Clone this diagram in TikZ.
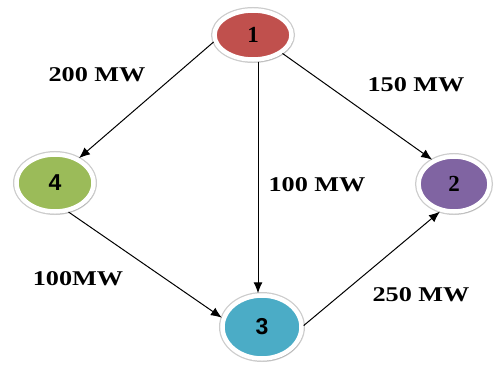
\documentclass[tikz,border=0pt]{standalone}
\usepackage{fontspec}
\setmainfont{Liberation Serif}
\newfontfamily\numsans{Liberation Sans}
\usetikzlibrary{shapes.geometric,arrows.meta,shadows}
\definecolor{cred}{HTML}{C0504D}
\definecolor{cgreen}{HTML}{9BBB59}
\definecolor{cpurple}{HTML}{8064A2}
\definecolor{cteal}{HTML}{4BACC6}
\tikzset{
  bus/.style={ellipse, inner sep=0pt, draw=white, line width=4.5pt,
    preaction={draw=black!20, line width=7pt},
    drop shadow={shadow xshift=1.5pt, shadow yshift=-2.5pt, fill=black!45, opacity=0.45},
    font=\fontsize{23}{23}\selectfont\bfseries},
  flow/.style={draw=black, line width=1pt, -{Latex[length=11pt,width=9pt]}},
  mw/.style={font=\fontsize{21}{21}\selectfont\bfseries, xscale=1.25, inner sep=0pt}
}
\begin{document}
\begin{tikzpicture}[x=1pt,y=-1pt]
\useasboundingbox (0,0) rectangle (495,369);
\node[bus, fill=cred, minimum width=77pt, minimum height=49pt] (n1) at (253,35) {1};
\node[bus, fill=cgreen, minimum width=77pt, minimum height=57pt] (n4) at (55,183) {\numsans 4};
\node[bus, fill=cpurple, minimum width=71pt, minimum height=55pt] (n2) at (454,184) {2};
\node[bus, fill=cteal, minimum width=79pt, minimum height=63pt] (n3) at (262,327) {\numsans 3};
\draw[flow] (n1.190) -- (n4.46);
\draw[flow] (n1.328) -- (n2.132);
\draw[flow] ([xshift=5pt]n1.south) -- ([xshift=-4pt]n3.north);
\draw[flow] (n4.295) -- (n3.167);
\draw[flow] (n3.2) -- (n2.243);
\node[mw] (l1) at (97,74.5) {200 MW};
\node[mw] (l2) at (416,84.5) {150 MW};
\node[mw] (l3) at (317,184.5) {100 MW};
\node[mw] (l4) at (78,279) {100MW};
\node[mw] (l5) at (421,294.5) {250 MW};
\end{tikzpicture}
\end{document}
